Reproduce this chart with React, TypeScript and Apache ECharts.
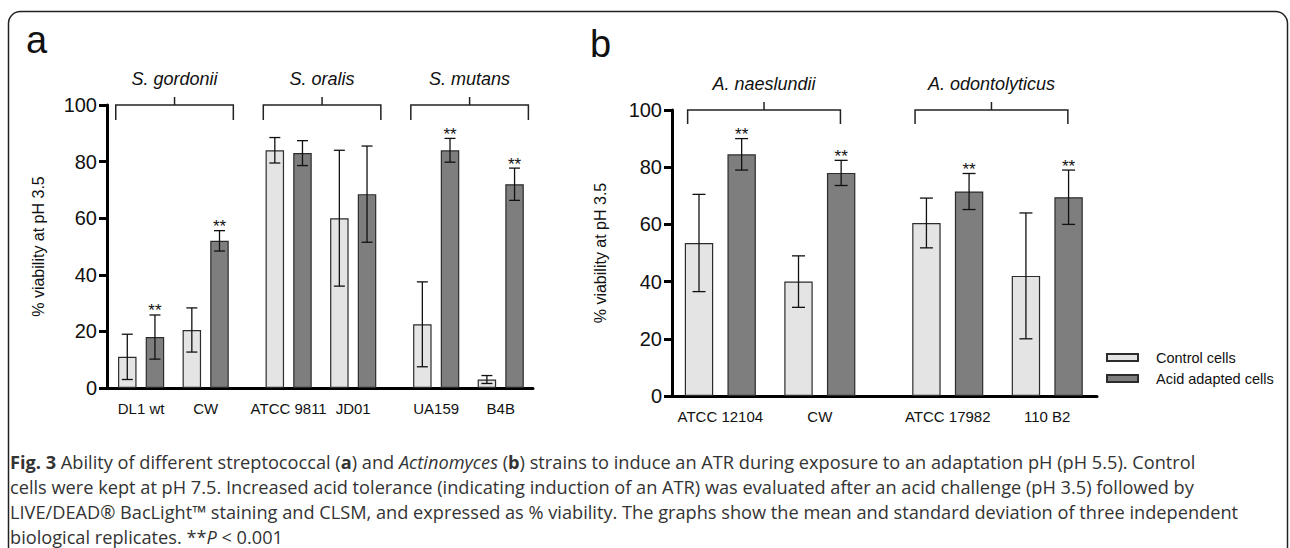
import React, { useEffect, useRef } from 'react';
import * as echarts from 'echarts';

// ---------- data: panel a (streptococci) ----------
const speciesA = ['S. gordonii', 'S. oralis', 'S. mutans'];
const strainsA = ['DL1 wt', 'CW', 'ATCC 9811', 'JD01', 'UA159', 'B4B'];
const controlA = [11, 20.5, 84, 60, 22.5, 3];
const controlSdA = [8, 7.8, 4.5, 24, 15, 1.4];
const adaptedA = [18, 52, 83, 68.5, 84, 72];
const adaptedSdA = [7.8, 3.6, 4.4, 17, 4.2, 5.7];
const sigA = [true, true, false, false, true, true];

// ---------- data: panel b (Actinomyces) ----------
const speciesB = ['A. naeslundii', 'A. odontolyticus'];
const strainsB = ['ATCC 12104', 'CW', 'ATCC 17982', '110 B2'];
const controlB = [53.5, 40, 60.5, 42];
const controlSdB = [17, 9, 8.7, 22];
const adaptedB = [84.5, 78, 71.5, 69.5];
const adaptedSdB = [5.5, 4.4, 6.3, 9.5];
const sigB = [true, true, true, true];

const yTicks = [0, 20, 40, 60, 80, 100];
const legendNames = ['Control cells', 'Acid adapted cells'];
const yName = '% viability at pH 3.5';

// ---------- layout helpers (not data) ----------
const PER_SPECIES = 2;
const SPECIES_STEP = 16;
const STRAIN_STEP = 7;
const PAIR_STEP = 3;
const slotOf = (i: number) =>
  Math.floor(i / PER_SPECIES) * SPECIES_STEP + (i % PER_SPECIES) * STRAIN_STEP;

const FONT = "'Liberation Sans', Arial, Helvetica, sans-serif";
const CAP_FONT = "'Open Sans', 'Noto Sans', sans-serif";
const CONTROL_COLOR = '#e4e4e4';
const ADAPTED_COLOR = '#7e7e7e';
const EDGE = '#2c2c2c';
const CAP_SIZE = 18.2;

function buildPanel(
  idx: number,
  species: string[],
  strains: string[],
  control: number[],
  controlSd: number[],
  adapted: number[],
  adaptedSd: number[],
  sig: boolean[],
  barW: number,
  capHalf: number,
  brL: number,
  brR: number,
  drop: number
) {
  const common = { xAxisIndex: idx, yAxisIndex: idx };
  const bars = [
    {
      ...common,
      type: 'bar',
      name: legendNames[0],
      barWidth: barW,
      barGap: '-100%',
      itemStyle: { color: CONTROL_COLOR, borderColor: EDGE, borderWidth: 1.2 },
      data: strains.map((_, i) => [slotOf(i), control[i]]),
      z: 2,
    },
    {
      ...common,
      type: 'bar',
      name: legendNames[1],
      barWidth: barW,
      barGap: '-100%',
      itemStyle: { color: ADAPTED_COLOR, borderColor: EDGE, borderWidth: 1.2 },
      data: strains.map((_, i) => [slotOf(i) + PAIR_STEP, adapted[i]]),
      z: 2,
    },
  ];
  const errData = [
    ...control.map((v, i) => [slotOf(i), v, controlSd[i], 0]),
    ...adapted.map((v, i) => [slotOf(i) + PAIR_STEP, v, adaptedSd[i], sig[i] ? 1 : 0]),
  ];
  const errors = {
    ...common,
    type: 'custom',
    name: 'err' + idx,
    z: 5,
    encode: { x: 0, y: 1 },
    data: errData,
    renderItem: (params: any, api: any) => {
      const x = api.value(0);
      const m = api.value(1);
      const sd = api.value(2);
      const s = api.value(3);
      const top = api.coord([x, m + sd]);
      const bot = api.coord([x, m - sd]);
      const ls = { stroke: '#111', lineWidth: 1.3 };
      const children: any[] = [
        { type: 'line', shape: { x1: top[0], y1: top[1], x2: bot[0], y2: bot[1] }, style: ls },
        { type: 'line', shape: { x1: top[0] - capHalf, y1: top[1], x2: top[0] + capHalf, y2: top[1] }, style: ls },
        { type: 'line', shape: { x1: bot[0] - capHalf, y1: bot[1], x2: bot[0] + capHalf, y2: bot[1] }, style: ls },
      ];
      if (s) {
        children.push({
          type: 'text',
          style: {
            text: '**',
            x: top[0],
            y: top[1] - 4,
            textAlign: 'center',
            align: 'center',
            textVerticalAlign: 'middle',
            verticalAlign: 'middle',
            fontSize: 17,
            fontFamily: FONT,
            fill: '#111',
          },
        });
      }
      return { type: 'group', children };
    },
  };
  const brackets = {
    ...common,
    type: 'custom',
    name: 'br' + idx,
    z: 5,
    clip: false,
    encode: { x: [0, 1], y: 2 },
    data: species.map((_, g) => [
      g * SPECIES_STEP + brL,
      g * SPECIES_STEP + STRAIN_STEP + PAIR_STEP + brR,
      100,
    ]),
    renderItem: (params: any, api: any) => {
      const p1 = api.coord([api.value(0), api.value(2)]);
      const p2 = api.coord([api.value(1), api.value(2)]);
      const y = p1[1];
      const mid = (p1[0] + p2[0]) / 2;
      const ls = { stroke: '#222', lineWidth: 1.5, fill: 'none' };
      return {
        type: 'group',
        children: [
          {
            type: 'polyline',
            shape: { points: [[p1[0], y + drop], [p1[0], y], [p2[0], y], [p2[0], y + drop]] },
            style: ls,
          },
          { type: 'line', shape: { x1: mid, y1: y, x2: mid, y2: y - 8 }, style: ls },
          {
            type: 'text',
            style: {
              text: species[params.dataIndex],
              x: mid,
              y: y - 26,
              textAlign: 'center',
              align: 'center',
              textVerticalAlign: 'middle',
              verticalAlign: 'middle',
              fontSize: 18,
              fontStyle: 'italic',
              fontFamily: FONT,
              fill: '#111',
            },
          },
        ],
      };
    },
  };
  return [...bars, errors, brackets];
}

function xAxisFor(idx: number, strains: string[], min: number, max: number) {
  const centers = strains.map((_, i) => slotOf(i) + PAIR_STEP / 2);
  return {
    type: 'value',
    gridIndex: idx,
    min,
    max,
    axisLine: { show: true, onZero: false, lineStyle: { color: '#000', width: 3 } },
    axisTick: { show: false },
    splitLine: { show: false },
    axisLabel: {
      customValues: centers,
      formatter: (v: number) => {
        const k = centers.findIndex((c) => Math.abs(c - v) < 1e-6);
        return k >= 0 ? strains[k] : '';
      },
      fontSize: 15,
      fontFamily: FONT,
      color: '#111',
      margin: 13,
    },
  };
}

function yAxisFor(idx: number, gap: number) {
  return {
    type: 'value',
    gridIndex: idx,
    min: 0,
    max: 100,
    interval: 20,
    name: yName,
    nameLocation: 'middle',
    nameGap: gap,
    nameTextStyle: { fontSize: 16, fontFamily: FONT, color: '#111' },
    axisLine: { show: true, onZero: false, lineStyle: { color: '#000', width: 3 } },
    axisTick: { show: true, length: 8, lineStyle: { color: '#000', width: 3 } },
    splitLine: { show: false },
    axisLabel: {
      customValues: yTicks,
      fontSize: 20,
      fontFamily: FONT,
      color: '#111',
      margin: 10,
    },
  };
}

const captionRich = {
  b: { fontWeight: 'bold', fontSize: CAP_SIZE, fontFamily: CAP_FONT, fill: '#333', color: '#333' },
  i: { fontStyle: 'italic', fontSize: CAP_SIZE, fontFamily: CAP_FONT, fill: '#333', color: '#333' },
};
const captionLines = [
  '{b|Fig. 3} Ability of different streptococcal ({b|a}) and {i|Actinomyces} ({b|b}) strains to induce an ATR during exposure to an adaptation pH (pH 5.5). Control',
  'cells were kept at pH 7.5. Increased acid tolerance (indicating induction of an ATR) was evaluated after an acid challenge (pH 3.5) followed by',
  'LIVE/DEAD® BacLight™ staining and CLSM, and expressed as % viability. The graphs show the mean and standard deviation of three independent',
  'biological replicates. **{i|P} < 0.001',
];

export default function App() {
  const ref = useRef<HTMLDivElement>(null);
  useEffect(() => {
    if (!ref.current) return;
    const chart = echarts.init(ref.current, undefined, { renderer: 'svg' });
    const option: any = {
      animation: false,
      backgroundColor: '#fff',
      grid: [
        { left: 107, top: 105, width: 426, height: 283 },
        { left: 672, top: 110, width: 425, height: 286 },
      ],
      xAxis: [xAxisFor(0, strainsA, -2.2, 44), xAxisFor(1, strainsB, -1.9, 28)],
      yAxis: [yAxisFor(0, 61), yAxisFor(1, 64)],
      legend: {
        data: legendNames,
        orient: 'vertical',
        left: 1101,
        top: 345,
        itemWidth: 31,
        itemHeight: 7,
        itemGap: 6,
        icon: 'rect',
        selectedMode: false,
        textStyle: { fontSize: 14.5, fontFamily: FONT, color: '#111', padding: [0, 0, 0, 13] },
      },
      series: [
        ...buildPanel(0, speciesA, strainsA, controlA, controlSdA, adaptedA, adaptedSdA, sigA, 18.5, 5.5, -1.25, 1.5, 15),
        ...buildPanel(1, speciesB, strainsB, controlB, controlSdB, adaptedB, adaptedSdB, sigB, 28.4, 6.5, -0.8, -0.05, 14),
      ],
      graphic: [
        {
          type: 'rect',
          shape: { x: 8.5, y: 11.5, width: 1279, height: 620, r: 12 },
          style: { fill: 'none', stroke: '#222', lineWidth: 1.5 },
          silent: true,
        },
        {
          type: 'text',
          style: { text: 'a', x: 26, y: 40, textVerticalAlign: 'middle', verticalAlign: 'middle', fontSize: 38, fontFamily: FONT, fill: '#111' },
        },
        {
          type: 'text',
          style: { text: 'b', x: 590, y: 44, textVerticalAlign: 'middle', verticalAlign: 'middle', fontSize: 38, fontFamily: FONT, fill: '#111' },
        },
        ...captionLines.map((t, k) => ({
          type: 'text',
          style: {
            text: t,
            x: 10,
            y: 462 + k * 25,
            textVerticalAlign: 'middle',
            verticalAlign: 'middle',
            fontSize: CAP_SIZE,
            fontFamily: CAP_FONT,
            fill: '#333',
            rich: captionRich,
          },
        })),
      ],
    };
    chart.setOption(option);
    return () => chart.dispose();
  }, []);
  return (
    <div
      ref={ref}
      style={{ position: 'fixed', left: 0, top: 0, width: 1290, height: 548, background: '#fff' }}
    />
  );
}
